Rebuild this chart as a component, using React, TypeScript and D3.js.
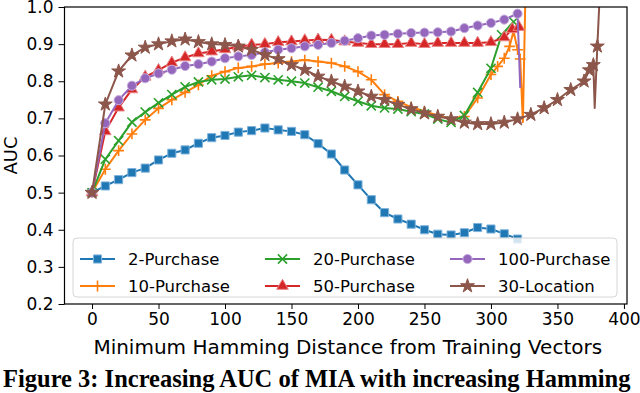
import React, { useRef, useEffect } from "react";
import * as d3 from "d3";

// Hamming distance (x) and AUC (y) per dataset
const purchase2X = [0, 10, 20, 30, 40, 50, 60, 70, 80, 90, 100, 110, 120, 130, 140, 150, 160, 170, 180, 190, 200, 210, 220, 230, 240, 250, 260, 270, 280, 290, 300, 310, 320];
const purchase2Y = [0.5, 0.518, 0.535, 0.554, 0.566, 0.588, 0.606, 0.615, 0.633, 0.648, 0.654, 0.663, 0.667, 0.674, 0.669, 0.665, 0.656, 0.632, 0.604, 0.561, 0.521, 0.481, 0.446, 0.429, 0.415, 0.4, 0.388, 0.386, 0.392, 0.406, 0.402, 0.389, 0.375];

const purchase10X = [0, 10, 20, 30, 40, 50, 60, 70, 80, 90, 100, 110, 120, 130, 140, 150, 160, 170, 180, 190, 200, 210, 220, 230, 240, 250, 260, 270, 280, 290, 300, 305, 310, 314, 317, 320, 322, 324, 326];
const purchase10Y = [0.5, 0.563, 0.613, 0.658, 0.696, 0.727, 0.75, 0.77, 0.79, 0.815, 0.826, 0.836, 0.84, 0.846, 0.849, 0.853, 0.857, 0.853, 0.849, 0.84, 0.826, 0.804, 0.764, 0.746, 0.73, 0.719, 0.708, 0.7, 0.705, 0.755, 0.818, 0.84, 0.862, 0.894, 0.935, 0.885, 0.86, 0.69, 1.05];

const purchase20X = [0, 10, 20, 30, 40, 50, 60, 70, 80, 90, 100, 110, 120, 130, 140, 150, 160, 170, 180, 190, 200, 210, 220, 230, 240, 250, 260, 270, 280, 290, 300, 308, 317];
const purchase20Y = [0.5, 0.59, 0.64, 0.69, 0.717, 0.742, 0.764, 0.785, 0.798, 0.804, 0.806, 0.812, 0.816, 0.81, 0.804, 0.8, 0.795, 0.784, 0.773, 0.759, 0.746, 0.734, 0.728, 0.725, 0.718, 0.712, 0.698, 0.689, 0.708, 0.77, 0.835, 0.925, 0.96];

const purchase50X = [0, 10, 20, 30, 40, 50, 60, 70, 80, 90, 100, 110, 120, 130, 140, 150, 160, 170, 180, 190, 200, 210, 220, 230, 240, 250, 260, 270, 280, 290, 300, 310, 316, 321];
const purchase50Y = [0.5, 0.665, 0.729, 0.778, 0.812, 0.83, 0.85, 0.864, 0.875, 0.88, 0.886, 0.893, 0.898, 0.9, 0.905, 0.907, 0.91, 0.912, 0.911, 0.907, 0.903, 0.9, 0.9, 0.9, 0.903, 0.9, 0.903, 0.903, 0.903, 0.903, 0.905, 0.918, 0.94, 0.946];

const purchase100X = [0, 10, 20, 30, 40, 50, 60, 70, 80, 90, 100, 110, 120, 130, 140, 150, 160, 170, 180, 190, 200, 210, 220, 230, 240, 250, 260, 270, 280, 290, 300, 310, 320, 322];
const purchase100Y = [0.5, 0.687, 0.749, 0.788, 0.808, 0.821, 0.831, 0.841, 0.846, 0.853, 0.862, 0.867, 0.871, 0.878, 0.885, 0.889, 0.894, 0.898, 0.903, 0.909, 0.916, 0.923, 0.925, 0.928, 0.93, 0.931, 0.932, 0.934, 0.943, 0.95, 0.957, 0.966, 0.982, 0.782];

const location30X = [0, 10, 20, 30, 40, 50, 60, 70, 80, 90, 100, 110, 120, 130, 140, 150, 160, 170, 180, 190, 200, 210, 220, 230, 240, 250, 260, 270, 280, 290, 300, 310, 320, 330, 340, 350, 360, 370, 374, 377, 378, 380, 382];
const location30Y = [0.5, 0.738, 0.827, 0.87, 0.891, 0.9, 0.908, 0.913, 0.906, 0.9, 0.898, 0.894, 0.885, 0.871, 0.86, 0.844, 0.831, 0.813, 0.8, 0.786, 0.773, 0.759, 0.75, 0.737, 0.725, 0.714, 0.705, 0.698, 0.689, 0.685, 0.685, 0.689, 0.698, 0.71, 0.728, 0.75, 0.777, 0.8, 0.83, 0.844, 0.728, 0.894, 1.05];

// points where the original shows a line but no marker
const purchase10NoMarker = [324, 326];
const purchase100NoMarker = [322];
const location30NoMarker = [378, 382];

const xTicks = [0, 50, 100, 150, 200, 250, 300, 350, 400];
const yTicks = [0.2, 0.3, 0.4, 0.5, 0.6, 0.7, 0.8, 0.9, 1.0];

const series = [
  { name: "2-Purchase", xs: purchase2X, ys: purchase2Y, skip: [], color: "#1f77b4", edge: "#7fb3dc", marker: "square" },
  { name: "10-Purchase", xs: purchase10X, ys: purchase10Y, skip: purchase10NoMarker, color: "#ff7f0e", edge: "#ff7f0e", marker: "plus" },
  { name: "20-Purchase", xs: purchase20X, ys: purchase20Y, skip: [], color: "#2ca02c", edge: "#2ca02c", marker: "times" },
  { name: "50-Purchase", xs: purchase50X, ys: purchase50Y, skip: [], color: "#d62728", edge: "#ea8384", marker: "triangle" },
  { name: "100-Purchase", xs: purchase100X, ys: purchase100Y, skip: purchase100NoMarker, color: "#9467bd", edge: "#c7b0de", marker: "circle" },
  { name: "30-Location", xs: location30X, ys: location30Y, skip: location30NoMarker, color: "#8c564b", edge: "#8c564b", marker: "star" },
];

const font = "DejaVu Sans, sans-serif";

const symbolFor = (m) => {
  switch (m) {
    case "square": return d3.symbol(d3.symbolSquare, 66)();
    case "plus": return d3.symbol(d3.symbolPlus, 40)();
    case "times": return d3.symbol(d3.symbolTimes, 56)();
    case "triangle": return d3.symbol(d3.symbolTriangle, 58)();
    case "circle": return d3.symbol(d3.symbolCircle, 66)();
    default: return d3.symbol(d3.symbolStar, 60)();
  }
};

const drawMarker = (g, s, x, y) => {
  const stroked = s.marker === "plus" || s.marker === "times";
  g.append("path")
    .attr("d", symbolFor(s.marker))
    .attr("transform", `translate(${x},${y})`)
    .attr("fill", stroked ? "none" : s.color)
    .attr("stroke", stroked ? s.color : s.edge)
    .attr("stroke-width", stroked ? 1.6 : 1);
};

const App = () => {
  const svgRef = useRef();

  useEffect(() => {
    const width = 640;
    const height = 393;
    const left = 64.5, right = 627, top = 7, bottom = 304;

    const svg = d3.select(svgRef.current).attr("width", width).attr("height", height);
    svg.selectAll("*").remove();

    const x = d3.scaleLinear().domain([-20.7, 402.3]).range([left, right]);
    const y = d3.scaleLinear().domain([0.2, 1.0]).range([bottom, top]);

    svg.append("defs").append("clipPath").attr("id", "plot-clip")
      .append("rect").attr("x", left).attr("y", top).attr("width", right - left).attr("height", bottom - top);

    const plot = svg.append("g").attr("clip-path", "url(#plot-clip)");

    series.forEach((s) => {
      const pts = s.xs.map((v, i) => [v, s.ys[i]]);
      plot.append("path")
        .datum(pts)
        .attr("fill", "none")
        .attr("stroke", s.color)
        .attr("stroke-width", 2)
        .attr("stroke-linejoin", "round")
        .attr("d", d3.line().x((d) => x(d[0])).y((d) => y(d[1])));
      pts.filter((d) => !s.skip.includes(d[0])).forEach((d) => drawMarker(plot, s, x(d[0]), y(d[1])));
    });

    // axes
    const xAxis = svg.append("g")
      .attr("transform", `translate(0,${bottom})`)
      .call(d3.axisBottom(x).tickValues(xTicks).tickSize(5).tickPadding(4).tickSizeOuter(0));
    xAxis.select(".domain").remove();
    xAxis.selectAll("text").attr("font-family", font).attr("font-size", 17).attr("fill", "#000");

    const yAxis = svg.append("g")
      .attr("transform", `translate(${left},0)`)
      .call(d3.axisLeft(y).tickValues(yTicks).tickFormat(d3.format(".1f")).tickSize(6).tickPadding(5).tickSizeOuter(0));
    yAxis.select(".domain").remove();
    yAxis.selectAll("text").attr("font-family", font).attr("font-size", 17).attr("fill", "#000");

    svg.append("rect")
      .attr("x", left).attr("y", top).attr("width", right - left).attr("height", bottom - top)
      .attr("fill", "none").attr("stroke", "#000").attr("stroke-width", 1.2);

    svg.append("text")
      .attr("x", (left + right) / 2 + 2).attr("y", 354)
      .attr("text-anchor", "middle")
      .attr("font-family", font).attr("font-size", 20)
      .text("Minimum Hamming Distance from Training Vectors");

    svg.append("text")
      .attr("transform", `translate(17,${(top + bottom) / 2}) rotate(-90)`)
      .attr("text-anchor", "middle")
      .attr("font-family", font).attr("font-size", 18)
      .text("AUC");

    // legend
    const legend = svg.append("g");
    legend.append("rect")
      .attr("x", 73).attr("y", 238).attr("width", 544).attr("height", 59).attr("rx", 4)
      .attr("fill", "#fff").attr("fill-opacity", 0.8).attr("stroke", "#d6d6d6");
    const colX = [80, 265, 450];
    const rowY = [259, 286];
    series.forEach((s, k) => {
      const cx = colX[Math.floor(k / 2)];
      const cy = rowY[k % 2];
      legend.append("line")
        .attr("x1", cx).attr("x2", cx + 35).attr("y1", cy).attr("y2", cy)
        .attr("stroke", s.color).attr("stroke-width", 2);
      drawMarker(legend, s, cx + 17.5, cy);
      legend.append("text")
        .attr("x", cx + 48).attr("y", cy).attr("dy", "0.35em")
        .attr("font-family", font).attr("font-size", 16.5)
        .text(s.name);
    });

    svg.append("text")
      .attr("x", 3).attr("y", 387)
      .attr("font-family", "Liberation Serif, serif").attr("font-weight", "bold").attr("font-size", 24.5)
      .text("Figure 3: Increasing AUC of MIA with increasing Hamming");
  }, []);

  return <svg ref={svgRef} style={{ position: "absolute", left: 0, top: 0, background: "#fff" }}></svg>;
};

export default App;
